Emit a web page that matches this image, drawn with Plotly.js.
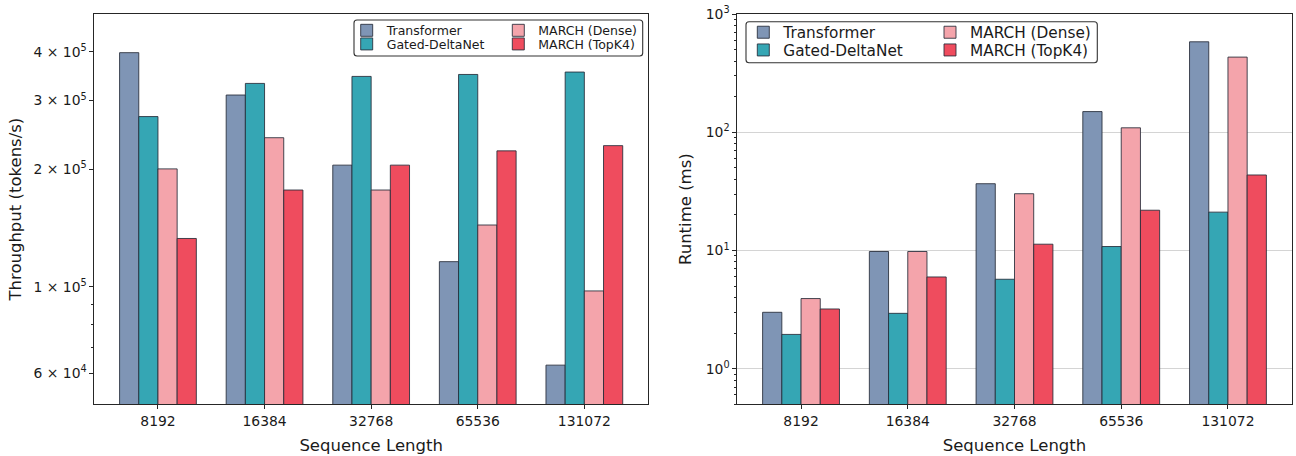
<!DOCTYPE html>
<html>
<head>
<meta charset="utf-8">
<script src="https://cdn.plot.ly/plotly-3.0.1.min.js"></script>
<style>
  html, body { margin: 0; padding: 0; background: #ffffff; }
  #chart { width: 1296px; height: 456px; }
</style>
</head>
<body>
<div id="chart"></div>
<script>
// ---- Data ----
const seqLengths = ['8192', '16384', '32768', '65536', '131072'];
const seriesNames = ['Transformer', 'Gated-DeltaNet', 'MARCH (Dense)', 'MARCH (TopK4)'];

const throughputTransformer = [398000, 310000, 205000, 116000, 63000];
const throughputGatedDeltaNet = [273000, 332000, 346000, 350000, 355000];
const throughputMarchDense = [200500, 241000, 177000, 144000, 97600];
const throughputMarchTopK4 = [133000, 177000, 205000, 223000, 230000];

const runtimeTransformer = [3.0, 9.8, 36.7, 149.5, 582];
const runtimeGatedDeltaNet = [1.95, 2.94, 5.71, 10.8, 21.1];
const runtimeMarchDense = [3.92, 9.8, 30.2, 109, 432];
const runtimeMarchTopK4 = [3.2, 5.97, 11.3, 21.9, 43.5];

const throughputTickVals = [60000, 100000, 200000, 300000, 400000];
const throughputTickText = ['6 × 10<sup>4</sup>', '1 × 10<sup>5</sup>', '2 × 10<sup>5</sup>', '3 × 10<sup>5</sup>', '4 × 10<sup>5</sup>'];
const throughputMinorVals = [70000, 80000, 90000];
const runtimeTickVals = [1, 10, 100, 1000];
const runtimeTickText = ['10<sup>0</sup>', '10<sup>1</sup>', '10<sup>2</sup>', '10<sup>3</sup>'];
const runtimeMinorVals = [0.5, 0.6, 0.7, 0.8, 0.9, 2, 3, 4, 5, 6, 7, 8, 9,
  20, 30, 40, 50, 60, 70, 80, 90, 200, 300, 400, 500, 600, 700, 800, 900];

// ---- Styles ----
const colors = ['#7F95B5', '#35A6B4', '#F4A4AB', '#EF4C5E'];
const edge = 'rgba(38,44,56,0.85)';
const FONT = 'DejaVu Sans, sans-serif';
const W = 1296, H = 456;
const px = v => v / W;
const py = v => 1 - v / H;

const leftSeries = [throughputTransformer, throughputGatedDeltaNet, throughputMarchDense, throughputMarchTopK4];
const rightSeries = [runtimeTransformer, runtimeGatedDeltaNet, runtimeMarchDense, runtimeMarchTopK4];

const traces = [];
leftSeries.forEach((vals, i) => {
  traces.push({
    type: 'bar', name: seriesNames[i], x: seqLengths, y: vals,
    xaxis: 'x', yaxis: 'y',
    marker: { color: colors[i], line: { color: edge, width: 1 } },
    legend: i === 0 ? 'legend' : 'legend' + (i + 1),
    hoverinfo: 'x+y+name'
  });
});
rightSeries.forEach((vals, i) => {
  traces.push({
    type: 'bar', name: seriesNames[i], x: seqLengths, y: vals,
    xaxis: 'x2', yaxis: 'y2',
    marker: { color: colors[i], line: { color: edge, width: 1 } },
    legend: 'legend' + (i + 5),
    hoverinfo: 'x+y+name'
  });
});

const axisCommon = {
  showline: true, mirror: true, linecolor: '#262626', linewidth: 1.1,
  ticks: 'outside', ticklen: 3.5, tickwidth: 1, tickcolor: '#262626',
  tickfont: { family: FONT, size: 13.9, color: '#1a1a1a' },
  zeroline: false, automargin: false
};

function xAxis(domain, anchor) {
  return Object.assign({}, axisCommon, {
    domain: domain, anchor: anchor, type: 'category',
    range: [-0.6, 4.6], showgrid: false,
    title: { text: 'Sequence Length', font: { family: FONT, size: 16.5, color: '#1a1a1a' }, standoff: 11 }
  });
}

// legend rows: [textStartX, rowCenterY]
function mkLegend(textX, rowY, size) {
  return {
    x: px(textX - 40), y: py(rowY), xanchor: 'left', yanchor: 'middle',
    bgcolor: 'rgba(0,0,0,0)', borderwidth: 0, itemwidth: 30,
    font: { family: FONT, size: size, color: '#1a1a1a' },
    itemclick: false, itemdoubleclick: false
  };
}

function roundedBox(x0, y0, x1, y1, r) {
  const rx = r / W, ry = r / H;
  const X0 = px(x0), X1 = px(x1), Y0 = py(y0), Y1 = py(y1);
  const p = `M ${X0 + rx},${Y0} L ${X1 - rx},${Y0} Q ${X1},${Y0} ${X1},${Y0 - ry} ` +
    `L ${X1},${Y1 + ry} Q ${X1},${Y1} ${X1 - rx},${Y1} L ${X0 + rx},${Y1} ` +
    `Q ${X0},${Y1} ${X0},${Y1 + ry} L ${X0},${Y0 - ry} Q ${X0},${Y0} ${X0 + rx},${Y0} Z`;
  return { type: 'path', xref: 'paper', yref: 'paper', path: p,
    line: { color: '#333333', width: 1.1 }, fillcolor: 'rgba(255,255,255,0.8)', layer: 'above' };
}

const layout = {
  width: W, height: H,
  margin: { l: 0, r: 0, t: 0, b: 0 },
  paper_bgcolor: '#ffffff', plot_bgcolor: '#ffffff',
  font: { family: FONT, color: '#1a1a1a' },
  barmode: 'group', bargap: 0.28, bargroupgap: 0,
  xaxis: xAxis([px(94), px(648.3)], 'y'),
  xaxis2: xAxis([px(737), px(1292)], 'y2'),
  yaxis: Object.assign({}, axisCommon, {
    domain: [py(404.3), py(14)], anchor: 'x', type: 'log',
    range: [Math.log10(50000), Math.log10(500000)],
    tickmode: 'array', tickvals: throughputTickVals, ticktext: throughputTickText,
    showgrid: false,
    minor: { tickmode: 'array', tickvals: throughputMinorVals, ticks: 'outside', ticklen: 2, tickwidth: 0.8, tickcolor: '#262626', showgrid: false },
    title: { text: 'Throughput (tokens/s)', font: { family: FONT, size: 16.5, color: '#1a1a1a' }, standoff: 7 }
  }),
  yaxis2: Object.assign({}, axisCommon, {
    domain: [py(404.3), py(14)], anchor: 'x2', type: 'log',
    range: [Math.log10(0.5), 3],
    tickmode: 'array', tickvals: runtimeTickVals, ticktext: runtimeTickText,
    showgrid: true, gridcolor: '#d4d4d4', gridwidth: 1,
    minor: { tickmode: 'array', tickvals: runtimeMinorVals, ticks: 'outside', ticklen: 2, tickwidth: 0.8, tickcolor: '#262626', showgrid: false },
    title: { text: 'Runtime (ms)', font: { family: FONT, size: 16.5, color: '#1a1a1a' }, standoff: 10 }
  }),
  showlegend: true,
  legend: mkLegend(386.7, 30.7, 12.5),
  legend2: mkLegend(386.7, 44.3, 12.5),
  legend3: mkLegend(538.3, 30.7, 12.5),
  legend4: mkLegend(538.3, 44.3, 12.5),
  legend5: mkLegend(783.3, 32.3, 15.3),
  legend6: mkLegend(783.3, 50.0, 15.3),
  legend7: mkLegend(970, 32.3, 15.3),
  legend8: mkLegend(970, 50.0, 15.3),
  shapes: [
    { type: 'line', xref: 'x domain', yref: 'y', x0: 0, x1: 1, y0: 5, y1: 5,
      line: { color: '#d4d4d4', width: 1 }, layer: 'below' },
    roundedBox(354, 20, 642.7, 56, 3),
    roundedBox(746, 21.7, 1097.3, 62.7, 3)
  ]
};

Plotly.newPlot('chart', traces, layout, { displayModeBar: false, responsive: false, staticPlot: false });
</script>
</body>
</html>
